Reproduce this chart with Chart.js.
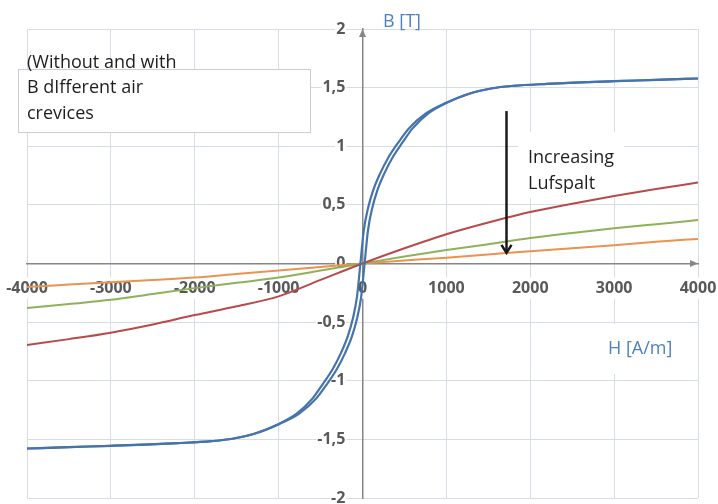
<!DOCTYPE html>
<html>
<head>
<meta charset="utf-8">
<title>B-H curves</title>
<script src="https://cdn.jsdelivr.net/npm/chart.js@4.4.1/dist/chart.umd.min.js"></script>
<style>
  html, body { margin: 0; padding: 0; background: #ffffff; }
  #wrap { width: 718px; height: 504px; position: relative; }
</style>
</head>
<body>
<div id="wrap"><canvas id="c"></canvas></div>
<script>
// Field strength H [A/m] for the air-gap curves
const hValues = [-4000, -3500, -3000, -2500, -2000, -1500, -1000, -500, 0,
                 500, 1000, 1500, 2000, 2500, 3000, 3500, 4000];
// Flux density B [T] for each air gap (small -> large)
const gapSmall  = [-0.695, -0.645, -0.59, -0.52, -0.44, -0.365, -0.28, -0.14, 0,
                   0.13, 0.25, 0.35, 0.44, 0.51, 0.575, 0.635, 0.69];
const gapMedium = [-0.38, -0.345, -0.31, -0.26, -0.21, -0.165, -0.12, -0.06, 0,
                   0.06, 0.115, 0.165, 0.217, 0.26, 0.30, 0.335, 0.37];
const gapLarge  = [-0.20, -0.18, -0.16, -0.14, -0.12, -0.09, -0.06, -0.03, 0,
                   0.025, 0.05, 0.077, 0.105, 0.13, 0.155, 0.185, 0.21];

// Core without air gap: hysteresis loop, two branches sharing the same B levels
const loopB = [-1.578, -1.566, -1.555, -1.545, -1.532, -1.515, -1.495, -1.45, -1.37, -1.28,
               -1.15, -1.03, -0.90, -0.76, -0.62, -0.47, -0.28, 0, 0.28, 0.47, 0.62, 0.76,
               0.90, 1.03, 1.15, 1.28, 1.37, 1.45, 1.495, 1.515, 1.532, 1.545, 1.555,
               1.566, 1.578];
const loopRisingH = [-4000, -3500, -3000, -2600, -2200, -1800, -1550, -1280, -995, -755,
                     -550, -425, -305, -205, -125, -65, -15, 25, 65, 115, 175, 255,
                     355, 475, 595, 785, 1005, 1280, 1550, 1800, 2200, 2600, 3000,
                     3500, 4000];
const loopFallingH = [-4000, -3500, -3000, -2600, -2200, -1800, -1550, -1280, -1005, -785,
                      -595, -475, -355, -255, -175, -115, -65, -25, 15, 65, 125, 205,
                      305, 425, 550, 755, 995, 1280, 1550, 1800, 2200, 2600, 3000,
                      3500, 4000];

// Axis ranges and tick steps
const hRange = [-4000, 4000], hStep = 1000;
const bRange = [-2, 2], bStep = 0.5;

// Arrow marking the growing air gap (in data units)
const gapArrow = { h: 1710, bFrom: 1.30, bTo: 0.09 };

const FONT = "'Open Sans', 'Noto Sans', 'DejaVu Sans', sans-serif";
Chart.defaults.font.family = FONT;

const toPoints = (xs, ys) => xs.map((x, i) => ({ x, y: ys[i] }));

function lineSet(label, xs, ys, color, width) {
  return {
    label, data: toPoints(xs, ys),
    showLine: true, borderColor: color, backgroundColor: color,
    borderWidth: width, pointRadius: 0, cubicInterpolationMode: 'monotone',
    xAxisID: 'x', yAxisID: 'y'
  };
}

const zeroPadding = s => { s.paddingLeft = 0; s.paddingRight = 0; s.paddingTop = 0; s.paddingBottom = 0; };

// Annotations: text boxes, gap arrow, axis arrowheads
const annotations = {
  id: 'annotations',
  beforeDatasetsDraw(chart) {
    const ctx = chart.ctx;
    ctx.save();
    ctx.fillStyle = '#ffffff';
    ctx.fillRect(518, 132, 106, 66);   // behind "Increasing Lufspalt"
    ctx.fillRect(590, 324, 96, 50);    // behind "H [A/m]"
    ctx.restore();
  },
  afterDraw(chart) {
    const ctx = chart.ctx;
    const xs = chart.scales.x, ys = chart.scales.y;
    ctx.save();

    // description box
    ctx.fillStyle = '#ffffff';
    ctx.fillRect(18.5, 69.5, 292, 63);
    ctx.strokeStyle = '#c9cdd4';
    ctx.lineWidth = 1;
    ctx.strokeRect(18.5, 69.5, 292, 63);

    ctx.font = '18px ' + FONT;
    ctx.fillStyle = '#1e1e1e';
    ctx.textAlign = 'left';
    ctx.textBaseline = 'alphabetic';
    ctx.fillText('(Without and with', 27, 68);
    ctx.fillText('B dIfferent air', 27, 93);
    ctx.fillText('crevices', 27, 119);

    ctx.fillText('Increasing', 528, 163);
    ctx.fillText('Lufspalt', 528, 189);

    // axis titles
    ctx.fillStyle = '#4f81bd';
    ctx.fillText('B [T]', 383, 27);
    ctx.fillText('H [A/m]', 608, 354);

    // gap arrow
    const ax = Math.round(xs.getPixelForValue(gapArrow.h)) + 0.5;
    const ay0 = ys.getPixelForValue(gapArrow.bFrom);
    const ay1 = ys.getPixelForValue(gapArrow.bTo);
    ctx.strokeStyle = '#1a1a1a';
    ctx.lineWidth = 2.5;
    ctx.beginPath();
    ctx.moveTo(ax, ay0);
    ctx.lineTo(ax, ay1);
    ctx.stroke();
    ctx.beginPath();
    ctx.moveTo(ax - 5, ay1 - 8);
    ctx.lineTo(ax, ay1);
    ctx.lineTo(ax + 5, ay1 - 8);
    ctx.stroke();

    // axis arrowheads
    const ox = xs.getPixelForValue(0), oy = ys.getPixelForValue(0);
    const right = chart.chartArea.right, top = chart.chartArea.top;
    ctx.fillStyle = '#868686';
    ctx.beginPath();
    ctx.moveTo(right, oy);
    ctx.lineTo(right - 8, oy - 3.5);
    ctx.lineTo(right - 8, oy + 3.5);
    ctx.closePath();
    ctx.fill();
    ctx.beginPath();
    ctx.moveTo(ox, top);
    ctx.lineTo(ox - 3.5, top + 8);
    ctx.lineTo(ox + 3.5, top + 8);
    ctx.closePath();
    ctx.fill();

    ctx.restore();
  }
};

const gridColor = '#d7dde6';
const tickFont = { family: FONT, size: 16, weight: 'bold' };
const tickColor = '#595959';
const axisColor = '#868686';
// B labels sit a little left of the vertical axis (value in A/m)
const bLabelOffsetH = -205;

new Chart(document.getElementById('c'), {
  type: 'scatter',
  data: {
    datasets: [
      lineSet('Without air gap (rising)', loopRisingH, loopB, '#4573ab', 2.2),
      lineSet('Without air gap (falling)', loopFallingH, loopB, '#4573ab', 2.2),
      lineSet('Air gap 1', hValues, gapSmall, '#b94a4c', 2),
      lineSet('Air gap 2', hValues, gapMedium, '#8fb15a', 2),
      lineSet('Air gap 3', hValues, gapLarge, '#ec9250', 2)
    ]
  },
  options: {
    responsive: true,
    maintainAspectRatio: false,
    animation: false,
    events: [],
    layout: { padding: { left: 27, top: 29, right: 20, bottom: 6 } },
    plugins: { legend: { display: false }, tooltip: { enabled: false } },
    scales: {
      // grid-only scales
      x: {
        type: 'linear', position: 'bottom', min: hRange[0], max: hRange[1],
        ticks: { display: false, stepSize: hStep },
        grid: { color: gridColor, lineWidth: 1, drawTicks: false },
        border: { display: false }
      },
      y: {
        type: 'linear', position: 'left', min: bRange[0], max: bRange[1],
        ticks: { display: false, stepSize: bStep },
        grid: { color: gridColor, lineWidth: 1, drawTicks: false },
        border: { display: false }
      },
      // vertical axis line through H = 0
      yLine: {
        type: 'linear', axis: 'y', position: { x: 0 }, min: bRange[0], max: bRange[1], z: 1,
        afterFit: zeroPadding,
        ticks: { display: false },
        grid: { display: false, drawTicks: false },
        border: { display: true, color: axisColor, width: 1.5 }
      },
      // horizontal axis through B = 0, with H labels
      xAxis: {
        type: 'linear', axis: 'x', position: { y: 0 }, min: hRange[0], max: hRange[1], z: 2,
        afterFit: zeroPadding,
        ticks: {
          stepSize: hStep, font: tickFont, color: tickColor, padding: 3,
          maxRotation: 0, autoSkip: false,
          showLabelBackdrop: true, backdropColor: '#ffffff', backdropPadding: 1,
          callback: v => String(v)
        },
        grid: { display: false, drawTicks: true, tickLength: 12 },
        border: { display: true, color: axisColor, width: 1.5 }
      },
      // B labels
      yAxis: {
        type: 'linear', axis: 'y', position: { x: bLabelOffsetH }, min: bRange[0], max: bRange[1], z: 3,
        afterFit: zeroPadding,
        ticks: {
          stepSize: bStep, font: tickFont, color: tickColor, autoSkip: false,
          showLabelBackdrop: true, backdropColor: '#ffffff', backdropPadding: 1,
          callback: v => String(v).replace('.', ',')
        },
        grid: { display: false, drawTicks: false },
        border: { display: false }
      }
    }
  },
  plugins: [annotations]
});
</script>
</body>
</html>
